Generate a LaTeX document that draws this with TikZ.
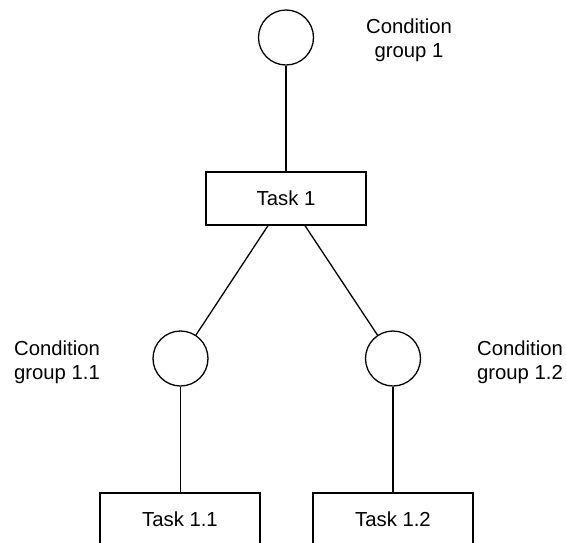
\documentclass[tikz,border=0pt]{standalone}
\usepackage{fontspec}
\setmainfont{Liberation Sans}
\begin{document}
\begin{tikzpicture}[x=1pt,y=-1pt,
  every node/.style={font=\fontsize{20.3}{23.5}\selectfont},
  cond/.style={draw,circle,minimum size=55pt,inner sep=0pt,line width=1.3pt},
  task/.style={draw,rectangle,minimum width=160pt,minimum height=53pt,inner sep=0pt,line width=1.3pt},
  label/.style={align=center,inner sep=0pt},
  link/.style={line width=1.3pt}]
  \useasboundingbox (0,0) rectangle (566,542);
  \clip (0,0) rectangle (566,542);

  % top level
  \node[cond] (c1) at (286,37.5) {};
  \node[label] (l1) at (409,40) {Condition\\group 1};
  \node[task] (t1) at (286,198.5) {Task 1};

  % second level conditions
  \node[cond] (c11) at (180.5,358.5) {};
  \node[cond] (c12) at (393,358.5) {};
  \node[label] (l11) at (57,362) {Condition\\group 1.1};
  \node[label] (l12) at (520,362) {Condition\\group 1.2};

  % leaf tasks
  \node[task] (t11) at (180,519.5) {Task 1.1};
  \node[task] (t12) at (393,519.5) {Task 1.2};

  % connectors
  \draw[link] (c1) -- (t1);
  \coordinate (t1a) at ([xshift=-18pt]t1.south);
  \coordinate (t1b) at ([xshift=19pt]t1.south);
  \draw[link] (t1a) -- (c11);
  \draw[link] (t1b) -- (c12);
  \draw[link] (c11.south) -- (c11.south |- t11.north);
  \draw[link] (c12.south) -- (c12.south |- t12.north);
\end{tikzpicture}
\end{document}
